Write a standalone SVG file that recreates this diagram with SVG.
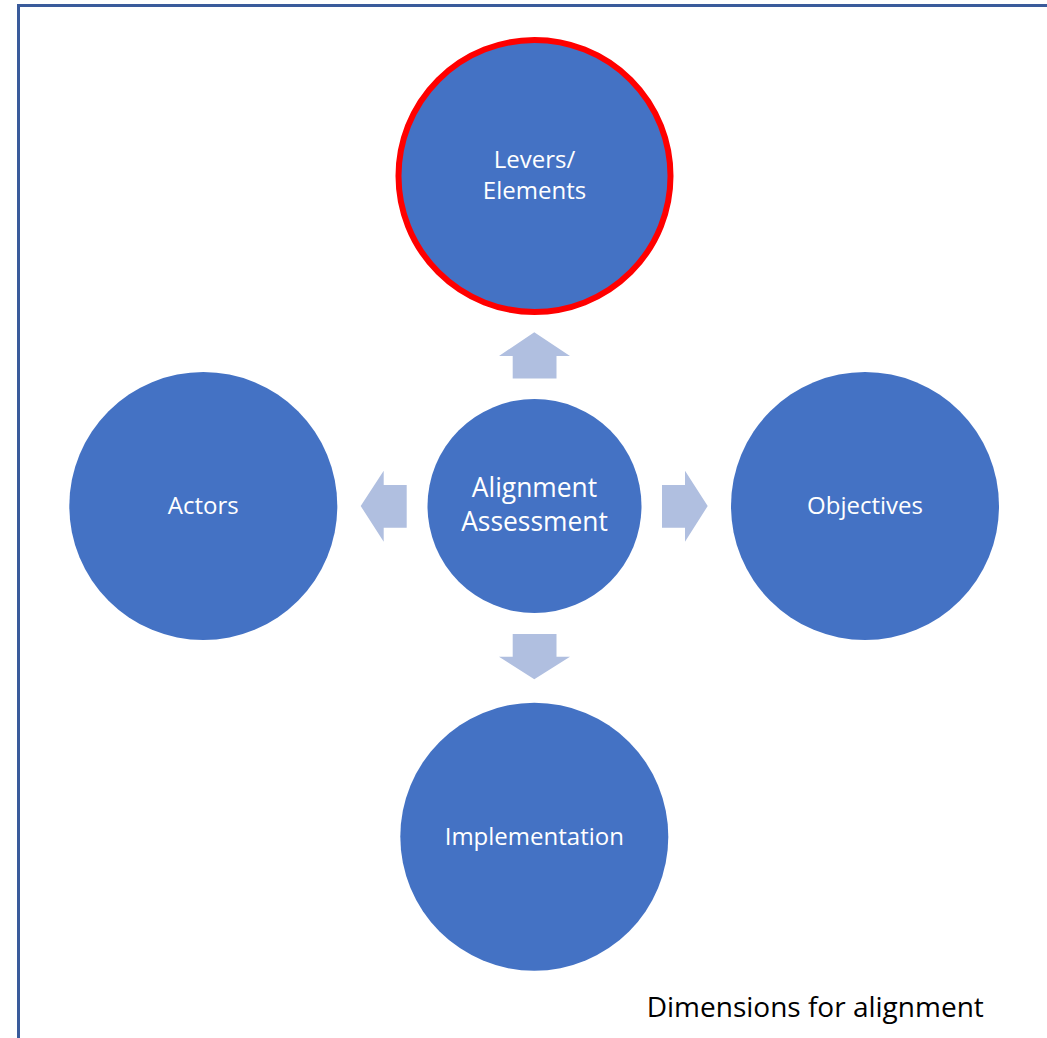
<svg xmlns="http://www.w3.org/2000/svg" width="1047" height="1038" viewBox="0 0 1047 1038">
<style>
.node{fill:#4472C4;}
.lbl{fill:#FFFFFF;font-family:"Open Sans","Noto Sans",sans-serif;font-size:24px;text-anchor:middle;}
.arrow{fill:#B0BFE0;}
.frame{fill:none;stroke:#3A5B9B;stroke-width:3;}
</style>
<rect x="0" y="0" width="1047" height="1038" fill="#FFFFFF"/>
<path class="frame" d="M18.5,1038 V5.5 H1047"/>
<g id="connectors">
<polygon class="arrow" points="534.3,332.3 570,356 556.5,356 556.5,378.5 512.7,378.5 512.7,356 499,356"/>
<polygon class="arrow" points="360.7,506 383.7,470.7 383.7,485 406.7,485 406.7,527.7 383.7,527.7 383.7,541.7"/>
<polygon class="arrow" points="707.7,506 685,470.7 685,485 662,485 662,527.7 685,527.7 685,541.7"/>
<polygon class="arrow" points="534.3,679.3 570,656.7 556.5,656.7 556.5,634 512.7,634 512.7,656.7 499,656.7"/>
</g>
<g id="levers">
<circle class="node" cx="534.5" cy="176" r="136" stroke="#FF0000" stroke-width="6"/>
<text class="lbl" x="534.5" y="168">Levers/</text>
<text class="lbl" x="534.5" y="199">Elements</text>
</g>
<g id="actors">
<circle class="node" cx="203.3" cy="506" r="134"/>
<text class="lbl" x="203.3" y="514">Actors</text>
</g>
<g id="objectives">
<circle class="node" cx="865" cy="506" r="134"/>
<text class="lbl" x="865" y="514">Objectives</text>
</g>
<g id="implementation">
<circle class="node" cx="534.3" cy="836.7" r="134"/>
<text class="lbl" x="534.3" y="845">Implementation</text>
</g>
<g id="alignment">
<circle class="node" cx="534.5" cy="506" r="107"/>
<text class="lbl" x="534.5" y="497.3" style="font-size:26.4px">Alignment</text>
<text class="lbl" x="534.5" y="530.7" style="font-size:26.4px">Assessment</text>
</g>
<text x="646.7" y="1016.7" style="font-family:'Open Sans','Noto Sans',sans-serif;font-size:28px;fill:#000000">Dimensions for alignment</text>
</svg>
